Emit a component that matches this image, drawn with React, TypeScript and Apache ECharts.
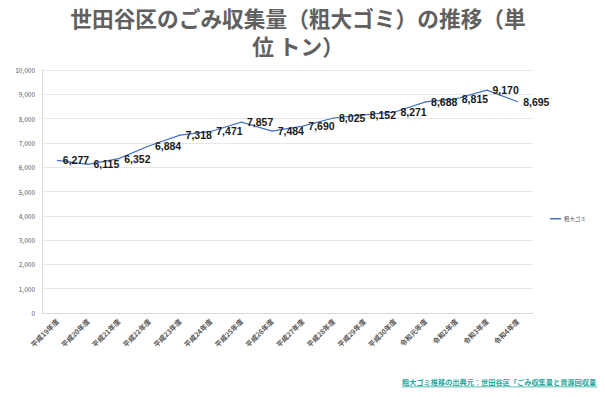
import React, { useEffect, useRef } from "react";
import * as echarts from "echarts";

const categories = [
  "平成19年度", "平成20年度", "平成21年度", "平成22年度", "平成23年度", "平成24年度",
  "平成25年度", "平成26年度", "平成27年度", "平成28年度", "平成29年度", "平成30年度",
  "令和元年度", "令和2年度", "令和3年度", "令和4年度",
];
const values = [6277, 6115, 6352, 6884, 7318, 7471, 7857, 7484, 7690, 8025, 8152, 8271, 8688, 8815, 9170, 8695];
const seriesName = "粗大ゴミ";
const titleLine1 = "世田谷区のごみ収集量（粗大ゴミ）の推移（単";
const titleLine2 = "位 トン）";
const sourceText = "粗大ゴミ推移の出典元：世田谷区「ごみ収集量と資源回収量";

const FONT = "'Noto Sans CJK JP', 'Noto Sans', sans-serif";

export default function App() {
  const ref = useRef<HTMLDivElement>(null);
  useEffect(() => {
    if (!ref.current) return;
    const chart = echarts.init(ref.current, null, { renderer: "svg" });
    chart.setOption({
      animation: false,
      backgroundColor: "#ffffff",
      textStyle: { fontFamily: FONT },
      grid: { left: 42, right: 72, top: 70, bottom: 84 },
      legend: {
        show: true,
        left: 545,
        top: 211,
        width: 60,
        orient: "vertical",
        itemWidth: 11,
        itemHeight: 1.5,
        itemGap: 4,
        icon: "rect",
        itemStyle: { color: "#4472c4", opacity: 1 },
        textStyle: { fontSize: 5.5, color: "#595959", fontFamily: FONT, padding: [0, 0, 0, -2] },
        data: [seriesName],
      },
      graphic: [
        {
          type: "text",
          x: 298,
          y: 7,
          style: {
            text: titleLine1,
            font: `bold 21.7px ${FONT}`,
            fill: "#606060",
            align: "center",
            verticalAlign: "top",
          },
        },
        {
          type: "text",
          x: 298,
          y: 35,
          style: {
            text: titleLine2,
            font: `bold 21.7px ${FONT}`,
            fill: "#606060",
            align: "center",
            verticalAlign: "top",
          },
        },
        {
          type: "text",
          x: 402,
          y: 378,
          style: { text: sourceText, font: `bold 7.2px ${FONT}`, fill: "#1fa79b" },
        },
        {
          type: "rect",
          x: 402,
          y: 386.5,
          shape: { width: 195, height: 0.8 },
          style: { fill: "#1fa79b" },
        },
      ],
      xAxis: {
        type: "category",
        data: categories,
        boundaryGap: true,
        axisLine: { show: true, lineStyle: { color: "#d9d9d9" } },
        axisTick: { show: false },
        axisLabel: {
          interval: 0,
          rotate: 45,
          fontSize: 7,
          fontWeight: "bold",
          color: "#595959",
          margin: 7,
          fontFamily: FONT,
        },
      },
      yAxis: {
        type: "value",
        min: 0,
        max: 10000,
        interval: 1000,
        axisLine: { show: true, lineStyle: { color: "#d9d9d9" } },
        axisTick: { show: false },
        splitLine: { lineStyle: { color: "#e6e6e6", width: 1 } },
        axisLabel: {
          fontSize: 6.5,
          color: "#595959",
          margin: 7,
          formatter: (v: number) => v.toLocaleString("en-US"),
        },
      },
      series: [
        {
          name: seriesName,
          type: "line",
          data: values,
          showSymbol: true,
          symbol: "circle",
          symbolSize: 1,
          lineStyle: { color: "#4472c4", width: 1.2 },
          itemStyle: { color: "#4472c4" },
          labelLayout: { hideOverlap: false },
          label: {
            show: true,
            position: "right",
            distance: 5,
            offset: [0, 1.5],
            fontSize: 10.5,
            fontWeight: "bold",
            color: "#1a1a1a",
            fontFamily: "'Liberation Sans', 'DejaVu Sans', sans-serif",
            formatter: (p: any) => Number(p.value).toLocaleString("en-US"),
          },
        },
      ],
    });
    return () => chart.dispose();
  }, []);
  return (
    <div
      ref={ref}
      style={{ position: "fixed", left: 0, top: 0, width: 605, height: 397 }}
    />
  );
}
